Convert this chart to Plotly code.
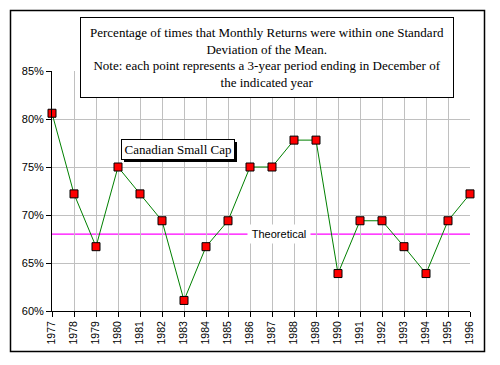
import plotly.graph_objects as go

years = list(range(1977, 1997))
year_labels = [str(y) for y in years]
pct_within = [80.6, 72.2, 66.7, 75.0, 72.2, 69.4, 61.1, 66.7, 69.4, 75.0,
              75.0, 77.8, 77.8, 63.9, 69.4, 69.4, 66.7, 63.9, 69.4, 72.2]
theoretical = 68.0
y_ticks = [60, 65, 70, 75, 80, 85]
y_tick_labels = ["60%", "65%", "70%", "75%", "80%", "85%"]

W, H = 500, 365
L, R, T, B = 52, 30, 71, 54
pw, ph = W - L - R, H - T - B


def px(x):
    return (x - L) / pw


def py(y):
    return (H - B - y) / ph


fig = go.Figure()
fig.add_trace(go.Scatter(
    x=years, y=pct_within, mode="lines+markers",
    line=dict(color="#008000", width=1),
    marker=dict(symbol="square", size=8, color="#ff0000",
                line=dict(color="#000000", width=1)),
    cliponaxis=False, showlegend=False, hoverinfo="x+y"))

fig.add_shape(type="line", xref="x", yref="y", x0=years[0], x1=years[-1],
              y0=theoretical, y1=theoretical,
              line=dict(color="#ff00ff", width=1.2), layer="below")

# outer border
fig.add_shape(type="rect", xref="paper", yref="paper",
              x0=px(10.5), x1=px(484.5), y0=py(351.5), y1=py(10.5),
              line=dict(color="black", width=1.5))
# shadow of series label
fig.add_shape(type="rect", xref="paper", yref="paper",
              x0=px(124), x1=px(237), y0=py(162), y1=py(142),
              fillcolor="black", line=dict(width=0), layer="above")

fig.add_annotation(
    xref="paper", yref="paper", x=px(266.5), y=py(17), xanchor="center", yanchor="top",
    text="Percentage of times that Monthly Returns were within one Standard<br>"
         "Deviation of the Mean.<br>"
         "Note: each point represents a 3-year period ending in December of<br>"
         "the indicated year",
    showarrow=False, align="center", width=370, height=77,
    bgcolor="white", bordercolor="black", borderwidth=1, borderpad=1,
    font=dict(family="Liberation Serif, Times New Roman, serif", size=13, color="black"))

fig.add_annotation(
    xref="paper", yref="paper", x=px(178), y=py(149), xanchor="center", yanchor="middle",
    text="Canadian Small Cap", showarrow=False,
    width=110, height=17, bgcolor="white", bordercolor="black", borderwidth=1, borderpad=1,
    font=dict(family="Liberation Serif, Times New Roman, serif", size=13, color="black"))

fig.add_annotation(
    xref="paper", yref="y", x=px(279), y=theoretical, xanchor="center", yanchor="middle",
    text="Theoretical", showarrow=False, width=60, height=16, bgcolor="white",
    font=dict(family="Liberation Sans, Arial, sans-serif", size=11, color="black"))

fig.update_layout(
    width=W, height=H, margin=dict(l=L, r=R, t=T, b=B),
    paper_bgcolor="white", plot_bgcolor="white",
    font=dict(family="Liberation Sans, Arial, sans-serif", size=11, color="black"),
    xaxis=dict(range=[years[0], years[-1]], tickvals=years, ticktext=year_labels,
               tickangle=-90, tickfont=dict(size=10.5),
               showgrid=True, gridcolor="#c0c0c0", gridwidth=1,
               showline=True, linecolor="black", linewidth=1,
               ticks="outside", ticklen=5, tickcolor="black", zeroline=False),
    yaxis=dict(range=[60, 85], tickvals=y_ticks, ticktext=y_tick_labels,
               showgrid=True, gridcolor="#c0c0c0", gridwidth=1,
               showline=True, linecolor="black", linewidth=1,
               ticks="outside", ticklen=5, tickcolor="black", zeroline=False),
)

fig.write_html("out.html", config={"displayModeBar": False},
               post_script="document.body.style.margin='0';")
